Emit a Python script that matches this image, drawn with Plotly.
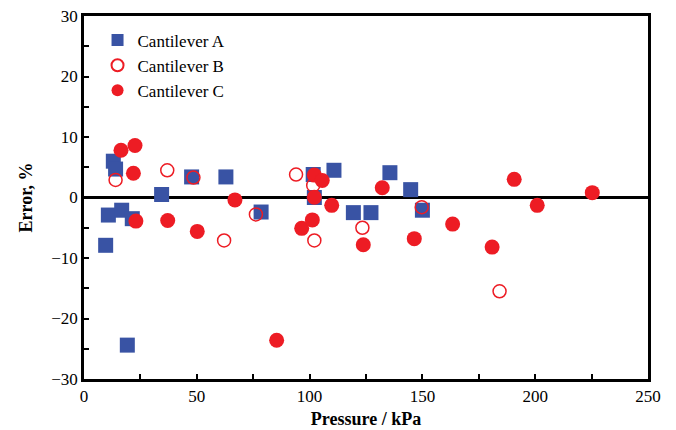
import plotly.graph_objects as go

# Cantilever A (filled blue squares)
a_x = [9.6, 10.8, 13.0, 14.0, 16.7, 21.4, 19.2, 34.4, 47.7, 62.9, 78.5,
       101.6, 110.8, 102.1, 119.4, 127.2, 135.6, 144.8, 150.0]
a_y = [-7.9, -2.9, 6.0, 4.7, -2.1, -3.5, -24.4, 0.5, 3.4, 3.4, -2.4,
       3.8, 4.5, 0.0, -2.5, -2.5, 4.1, 1.3, -2.1]

# Cantilever B (open red circles)
b_x = [14.0, 36.9, 48.5, 62.1, 76.2, 94.0, 101.6, 102.1, 123.4, 149.7, 184.2]
b_y = [2.9, 4.5, 3.3, -7.1, -2.8, 3.8, 2.0, -7.1, -5.0, -1.6, -15.5]

# Cantilever C (filled red circles)
c_x = [16.4, 22.6, 21.9, 23.0, 37.1, 50.2, 66.9, 85.4, 96.5, 101.2, 102.1,
       102.1, 105.6, 109.8, 123.8, 132.2, 146.4, 163.4, 180.9, 190.7, 200.9, 225.3]
c_y = [7.8, 8.6, 4.0, -3.9, -3.8, -5.6, -0.4, -23.6, -5.1, -3.7, 0.05,
       3.7, 2.8, -1.3, -7.8, 1.6, -6.8, -4.4, -8.2, 3.0, -1.3, 0.8]

BLUE = "#3953A4"
RED = "#ED1C24"
FONT = "Liberation Serif"

fig = go.Figure()
fig.add_trace(go.Scatter(x=a_x, y=a_y, mode="markers", name="Cantilever A",
                         marker=dict(symbol="square", size=15, color=BLUE, line=dict(width=0))))
fig.add_trace(go.Scatter(x=b_x, y=b_y, mode="markers", name="Cantilever B",
                         marker=dict(symbol="circle-open", size=13, color=RED, line=dict(width=1.5, color=RED))))
fig.add_trace(go.Scatter(x=c_x, y=c_y, mode="markers", name="Cantilever C",
                         marker=dict(symbol="circle", size=15, color=RED, line=dict(width=0))))

fig.update_layout(
    width=676, height=430,
    margin=dict(l=84, r=28, t=16, b=51, autoexpand=False),
    paper_bgcolor="white", plot_bgcolor="white",
    font=dict(family=FONT, size=17, color="black"),
    showlegend=True,
    legend=dict(x=0.024, y=0.982, xanchor="left", yanchor="top",
                bgcolor="rgba(0,0,0,0)", font=dict(family=FONT, size=17),
                itemsizing="constant"),
)
fig.update_xaxes(
    range=[0, 250], dtick=50, tick0=0, automargin=False,
    showline=True, linewidth=2.5, linecolor="black", mirror=True,
    ticks="inside", ticklen=5, tickwidth=2, tickcolor="black",
    minor=dict(dtick=25, ticks="inside", ticklen=5, tickwidth=2, tickcolor="black"),
    showgrid=False, zeroline=False,
    title=dict(text="<b>Pressure / kPa</b>", font=dict(family=FONT, size=18), standoff=8),
)
fig.update_yaxes(
    range=[-30, 30], dtick=10, tick0=0, automargin=False,
    showline=True, linewidth=2.5, linecolor="black", mirror=True,
    ticks="inside", ticklen=5, tickwidth=2, tickcolor="black",
    minor=dict(dtick=5, ticks="inside", ticklen=5, tickwidth=2, tickcolor="black"),
    showgrid=False, zeroline=True, zerolinecolor="black", zerolinewidth=2.5,
    title=dict(text="<b>Error, %</b>", font=dict(family=FONT, size=18), standoff=14),
)

fig.write_html("out.html")
